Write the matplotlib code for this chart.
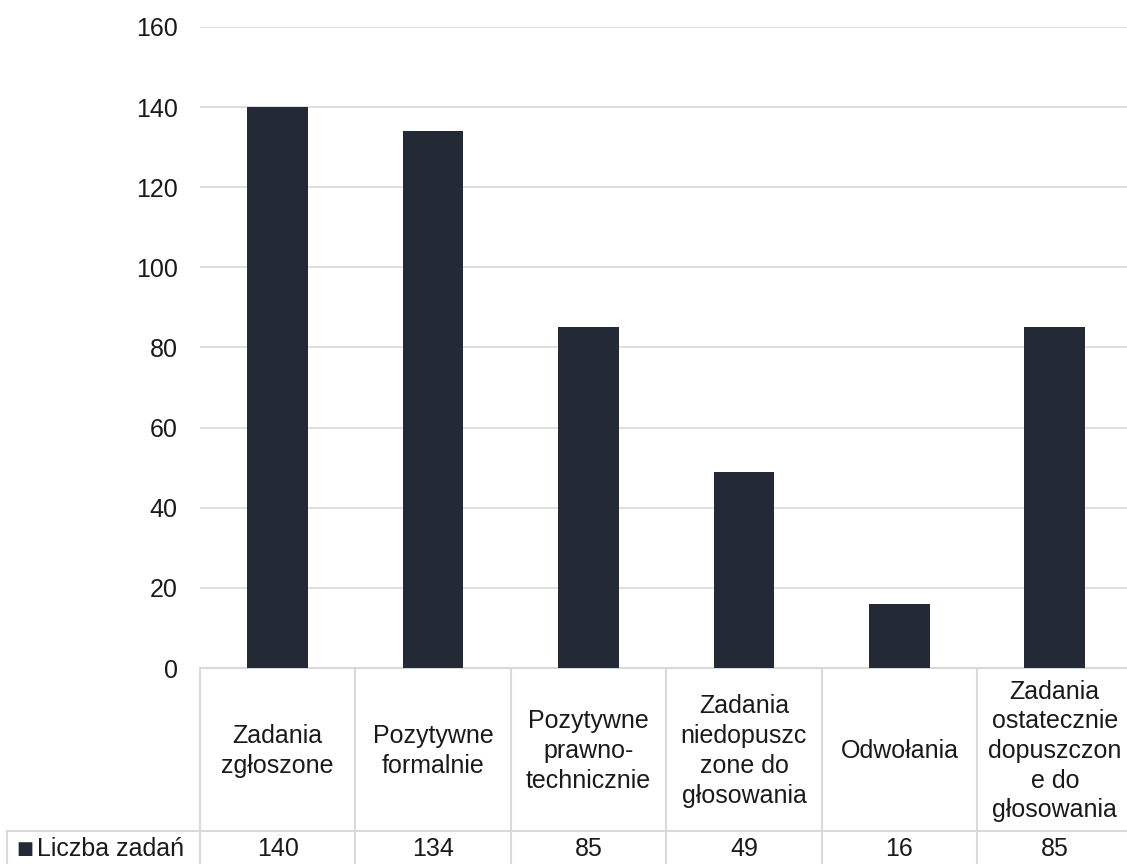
import matplotlib.pyplot as plt
import matplotlib.transforms as mtransforms

plt.rcParams['font.family'] = ['Liberation Sans', 'DejaVu Sans']

# data
categories = ['Zadania\nzgłoszone', 'Pozytywne\nformalnie', 'Pozytywne\nprawno-\ntechnicznie',
              'Zadania\nniedopuszc\nzone do\ngłosowania', 'Odwołania',
              'Zadania\nostatecznie\ndopuszczon\ne do\ngłosowania']
values = [140, 134, 85, 49, 16, 85]
series_name = 'Liczba zadań'
y_ticks = [0, 20, 40, 60, 80, 100, 120, 140, 160]

bar_color = '#232a35'
grid_color = '#d9d9d9'
fs = 18

fig = plt.figure(figsize=(11.27, 8.64), dpi=100)
ax = fig.add_axes([200 / 1127, 196 / 864, 932.5 / 1127, 641 / 864])

x = list(range(len(values)))
ax.bar(x, values, width=0.39, color=bar_color, zorder=3)
ax.set_xlim(-0.5, len(values) - 0.5)
ax.set_ylim(0, 160)
ax.set_yticks(y_ticks)
ax.set_yticklabels([str(t) for t in y_ticks], fontsize=fs, color='#1a1a1a')
ax.tick_params(axis='y', length=0, pad=16)
ax.set_xticks([])
ax.grid(axis='y', color=grid_color, linewidth=1.2, zorder=0)
for s in ax.spines.values():
    s.set_visible(False)

# data table below the axis
trans = mtransforms.blended_transform_factory(ax.transData, ax.transAxes)
px = 1 / 641.0
y_top = 0.0
y_mid = -(831 - 668) * px
y_bot = -(900 - 668) * px
x_left = (7 - 200) / 155.4 - 0.5
n = len(values)

line_kw = dict(color=grid_color, linewidth=1.5, transform=trans, clip_on=False, zorder=2)
ax.plot([-0.5, n - 0.5], [y_top, y_top], **line_kw)
ax.plot([x_left, n - 0.5], [y_mid, y_mid], **line_kw)
ax.plot([x_left, x_left], [y_mid, y_bot], **line_kw)
for i in range(n + 1):
    ax.plot([i - 0.5, i - 0.5], [y_top, y_bot], **line_kw)

hdr_y = -(751 - 668) * px
val_y = -(849 - 668) * px
for i, (c, v) in enumerate(zip(categories, values)):
    ax.text(i, hdr_y, c, transform=trans, ha='center', va='center', fontsize=fs,
            linespacing=1.3, color='#1a1a1a')
    ax.text(i, val_y, str(v), transform=trans, ha='center', va='center', fontsize=fs,
            color='#1a1a1a')

ax.text(x_left + 0.06, val_y, '■', transform=trans, ha='left', va='center',
        fontsize=13, color=bar_color, family=['DejaVu Sans'])
ax.text(x_left + 0.19, val_y, series_name, transform=trans, ha='left', va='center',
        fontsize=fs, color='#1a1a1a')

fig.savefig('out.png', dpi=100)
